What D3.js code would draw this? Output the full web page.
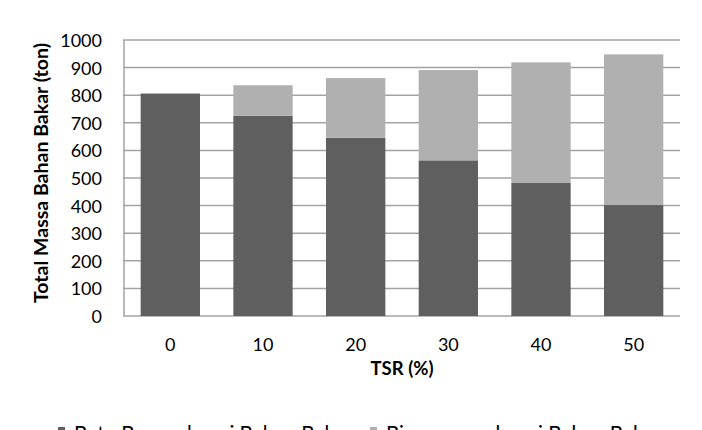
<!DOCTYPE html>
<html lang='en'>
<head>
  <meta charset='UTF-8'>
  <title>Total Massa Bahan Bakar</title>
  <style>
  body {
    margin: 0;
    background: #fff;
  }
  text {
    font-family: Lato, 'Open Sans', sans-serif;
    fill: #000;
  }
  .tick text {
    font-size: 18px;
  }
  .label {
    font-weight: bold;
  }
  .legend text {
    font-size: 20.5px;
  }
  </style>
  <script src="https://d3js.org/d3.v7.min.js"></script>
</head>
<body>
  <script>

  // data
  var tsr = ['0', '10', '20', '30', '40', '50'];
  var coal = [806, 726, 646, 564, 482, 402];     // Batu Bara sebagai Bahan Bakar
  var biomass = [0, 110, 216, 327, 437, 546];   // Biomassa sebagai Bahan Bakar
  var yTicks = [0, 100, 200, 300, 400, 500, 600, 700, 800, 900, 1000];
  var seriesNames = ['Batu Bara sebagai Bahan Bakar', 'Biomassa sebagai Bahan Bakar'];
  var colors = ['#5f5f5f', '#b0b0b0'];

  var svgWidth = 702;
  var svgHeight = 430;
  var margin = { top: 40, right: 22, bottom: 114, left: 124 };
  var width = svgWidth - margin.left - margin.right;
  var height = svgHeight - margin.top - margin.bottom;

  var svg = d3.select('body').append('svg')
    .attr('width', svgWidth)
    .attr('height', svgHeight);

  var g = svg.append('g').attr('transform', 'translate(' + margin.left + ',' + margin.top + ')');

  var x = d3.scaleBand().domain(tsr).range([0, width]).paddingInner(0.36).paddingOuter(0.18);
  var y = d3.scaleLinear().domain([0, 1000]).range([height, 0]);

  var rows = tsr.map(function (t, i) {
    return { tsr: t, coal: coal[i], biomass: biomass[i] };
  });
  var stacked = d3.stack().keys(['coal', 'biomass'])(rows);

  // gridlines
  g.append('g')
   .selectAll('line')
   .data(yTicks)
   .enter()
   .append('line')
   .attr('x1', -1)
   .attr('x2', width)
   .attr('y1', function (d) { return y(d); })
   .attr('y2', function (d) { return y(d); })
   .attr('stroke', '#a3a3a3')
   .attr('stroke-width', 1.5);

  // left border
  g.append('line')
   .attr('x1', 0).attr('x2', 0)
   .attr('y1', y(1000)).attr('y2', y(0))
   .attr('stroke', '#a3a3a3')
   .attr('stroke-width', 1.5);

  // stacked bars
  g.selectAll('.series')
   .data(stacked)
   .enter()
   .append('g')
   .attr('class', 'series')
   .attr('fill', function (d, i) { return colors[i]; })
   .selectAll('rect')
   .data(function (d) { return d; })
   .enter()
   .append('rect')
   .attr('x', function (d) { return x(d.data.tsr); })
   .attr('y', function (d) { return y(d[1]); })
   .attr('width', x.bandwidth())
   .attr('height', function (d) { return y(d[0]) - y(d[1]); });

  // axes
  var yAxis = g.append('g')
   .call(d3.axisLeft(y).tickValues(yTicks).tickFormat(d3.format('d')).tickSize(0).tickPadding(22));
  yAxis.select('.domain').remove();
  yAxis.selectAll('text').attr('dy', '0.36em');

  var xAxis = g.append('g')
   .attr('transform', 'translate(0,' + height + ')')
   .call(d3.axisBottom(x).tickSize(0).tickPadding(22));
  xAxis.select('.domain').remove();

  // axis titles
  svg.append('text')
     .attr('class', 'label')
     .attr('text-anchor', 'middle')
     .attr('font-size', '18.5px')
     .attr('x', 402)
     .attr('y', 375)
     .text('TSR (%)');

  svg.append('text')
     .attr('class', 'label')
     .attr('text-anchor', 'middle')
     .attr('font-size', '19.5px')
     .attr('transform', 'translate(48,173) rotate(-90)')
     .text('Total Massa Bahan Bakar (ton)');

  // legend (cut off at the bottom edge, as in the source)
  var legendX = [58, 370];
  var legend = svg.selectAll('.legend')
    .data(seriesNames)
    .enter()
    .append('g')
    .attr('class', 'legend')
    .attr('transform', function (d, i) { return 'translate(' + legendX[i] + ',441)'; });

  legend.append('rect')
        .attr('y', -14)
        .attr('width', 7)
        .attr('height', 7)
        .attr('fill', function (d, i) { return colors[i]; });

  legend.append('text')
        .attr('x', 16)
        .text(function (d) { return d; });
  </script>
</body>
</html>
